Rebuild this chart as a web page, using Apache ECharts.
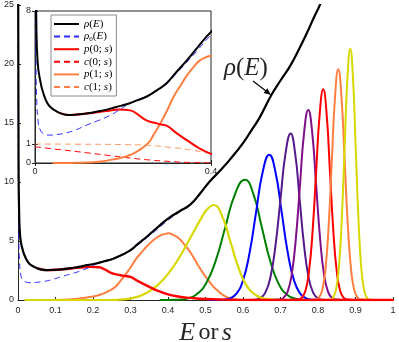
<!DOCTYPE html>
<html>
<head>
<meta charset="utf-8">
<script src="https://cdn.jsdelivr.net/npm/echarts@6.0.0/dist/echarts.min.js"></script>
<style>
html,body{margin:0;padding:0;background:#fff;}
#chart{width:399px;height:342px;}
</style>
</head>
<body>
<div id="chart"></div>
<script>
// ---- data (E or s, value) ----
const rhoPts = [[0.0005,26],[0.0015,12],[0.003,7.5],[0.006,5.3],[0.013,4.2],[0.02,3.6],[0.027,3.2],[0.035,2.95],[0.049,2.72],[0.06,2.6],[0.076,2.53],[0.095,2.55],[0.117,2.6],[0.14,2.7],[0.163,2.81],[0.185,2.95],[0.208,3.09],[0.23,3.28],[0.254,3.5],[0.275,3.8],[0.299,4.2],[0.32,4.75],[0.345,5.4],[0.37,6.1],[0.4,6.9],[0.43,7.5],[0.46,8.1],[0.485,9.0],[0.51,10.0],[0.54,11.0],[0.565,11.9],[0.6,13.3],[0.625,14.5],[0.645,15.5],[0.676,17.4],[0.7,18.6],[0.725,19.8],[0.75,21.3],[0.77,22.6],[0.79,24],[0.805,25],[0.82,26.2]];
const rho0Pts = [[0.0003,26],[0.0008,12],[0.002,6],[0.004,3.3],[0.0076,2.1],[0.012,1.75],[0.019,1.55],[0.034,1.47],[0.05,1.5],[0.064,1.55],[0.09,1.72],[0.117,1.99],[0.14,2.2],[0.163,2.42],[0.185,2.7],[0.208,3.04],[0.23,3.3],[0.254,3.52],[0.275,3.8],[0.299,4.15],[0.32,4.68],[0.345,5.3],[0.37,5.95],[0.4,6.75],[0.43,7.45],[0.46,8.05],[0.485,8.95],[0.51,9.95],[0.54,10.95],[0.565,11.85],[0.6,13.25],[0.625,14.45],[0.645,15.45],[0.676,17.35],[0.7,18.55],[0.725,19.75],[0.75,21.25],[0.77,22.55],[0.79,23.95],[0.805,24.95],[0.82,26.1]];
const p0Pts = [[0.055,2.65],[0.076,2.53],[0.117,2.6],[0.163,2.74],[0.193,2.81],[0.216,2.77],[0.231,2.6],[0.25,2.28],[0.269,2.13],[0.284,2.04],[0.3,1.95],[0.32,1.6],[0.345,1.2],[0.375,0.75],[0.4,0.48],[0.43,0.28],[0.459,0.18],[0.5,0.08],[0.55,0.03],[0.6,0.01],[0.65,0],[1.0,0]];
const p1Pts = [[0.04,0],[0.08,0.005],[0.117,0.02],[0.15,0.08],[0.178,0.19],[0.2,0.3],[0.216,0.42],[0.235,0.65],[0.258,1.07],[0.27,1.5],[0.284,2.05],[0.3,2.75],[0.314,3.45],[0.33,4.05],[0.345,4.6],[0.36,5.05],[0.375,5.4],[0.39,5.58],[0.402,5.65],[0.415,5.5],[0.43,5.2],[0.441,4.8],[0.455,4.25],[0.467,3.67],[0.48,2.95],[0.494,2.26],[0.508,1.65],[0.521,1.13],[0.535,0.72],[0.547,0.42],[0.565,0.14],[0.585,0.04],[0.6,0]];
const p2Pts = [[0.02,0],[0.25,0],[0.28,0.05],[0.31,0.2],[0.34,0.55],[0.37,1.2],[0.40,2.2],[0.43,3.6],[0.46,5.3],[0.49,7.0],[0.505,7.7],[0.522,8.05],[0.5445,7.1],[0.567,4.88],[0.5895,2.61],[0.612,1.09],[0.6345,0.4],[0.657,0.12],[0.68,0.03],[0.70,0]];
const p3Pts = [[0.38,0],[0.423,0.02],[0.449,0.11],[0.475,0.45],[0.501,1.38],[0.527,3.31],[0.553,6.19],[0.579,9.0],[0.605,10.2],[0.6275,9.0],[0.650,6.19],[0.6725,3.31],[0.695,1.38],[0.7175,0.45],[0.740,0.11],[0.7625,0.02],[0.80,0]];
const p4Pts = [[0.51,0],[0.5475,0.03],[0.565,0.14],[0.5825,0.54],[0.600,1.66],[0.6175,3.99],[0.635,7.46],[0.6525,10.85],[0.670,12.3],[0.6865,10.85],[0.703,7.46],[0.7195,3.99],[0.736,1.66],[0.7525,0.54],[0.769,0.14],[0.7855,0.03],[0.82,0]];
const p5Pts = [[0.60,0],[0.6325,0.03],[0.646,0.16],[0.6595,0.62],[0.673,1.91],[0.6865,4.58],[0.700,8.55],[0.7135,12.44],[0.727,14.1],[0.739,12.44],[0.751,8.55],[0.763,4.58],[0.775,1.91],[0.787,0.62],[0.799,0.16],[0.811,0.03],[0.84,0]];
const p6Pts = [[0.67,0],[0.697,0.04],[0.708,0.18],[0.719,0.71],[0.730,2.18],[0.741,5.23],[0.752,9.76],[0.763,14.21],[0.774,16.1],[0.7845,14.21],[0.795,9.76],[0.8055,5.23],[0.816,2.18],[0.8265,0.71],[0.837,0.18],[0.8475,0.04],[0.87,0]];
const p7Pts = [[0.72,0],[0.7475,0.04],[0.757,0.20],[0.7665,0.78],[0.776,2.42],[0.7855,5.80],[0.795,10.83],[0.8045,15.75],[0.814,17.85],[0.823,15.75],[0.832,10.83],[0.841,5.80],[0.850,2.42],[0.859,0.78],[0.868,0.20],[0.877,0.04],[0.90,0]];
const p8Pts = [[0.77,0],[0.7945,0.04],[0.803,0.22],[0.8115,0.86],[0.820,2.65],[0.8285,6.35],[0.837,11.86],[0.8455,17.25],[0.854,19.55],[0.8625,17.25],[0.871,11.86],[0.8795,6.35],[0.888,2.65],[0.8965,0.86],[0.905,0.22],[0.9135,0.04],[0.94,0]];
const p9Pts = [[0.80,0],[0.8335,0.05],[0.841,0.24],[0.8485,0.94],[0.856,2.88],[0.8635,6.92],[0.871,12.92],[0.8785,18.80],[0.886,21.3],[0.8933,18.80],[0.9005,12.92],[0.9078,6.92],[0.915,2.88],[0.9223,0.94],[0.9295,0.24],[0.9368,0.05],[0.96,0]];
const c0Pts = [[0,0.85],[0.05,0.72],[0.117,0.54],[0.16,0.42],[0.216,0.26],[0.26,0.16],[0.307,0.08],[0.35,0.03],[0.4,0.01]];
const c1Pts = [[0,1.0],[0.1,0.99],[0.2,0.97],[0.25,0.94],[0.3,0.84],[0.35,0.7],[0.4,0.5]];
// tick values
const insetYTicks = [0, 1, 8];
const legendNames = ['rho', 'rho0', 'p0', 'c0', 'p1', 'c1'];
const legendLabels = {
  rho: '{i|ρ}{n|(}{i|E}{n|)}',
  rho0: '{i|ρ}{sub|0}{n|(}{i|E}{n|)}',
  p0: '{i|p}{n|(0; }{i|s}{n|)}',
  c0: '{i|c}{n|(0; }{i|s}{n|)}',
  p1: '{i|p}{n|(1; }{i|s}{n|)}',
  c1: '{i|c}{n|(1; }{i|s}{n|)}'
};

const C = {
  black: '#000000', blue: '#2b2bff', red: '#ff0000', orange: '#ff7f40',
  yellow: '#d8d800', green: '#008000', pblue: '#0000ff', indigo: '#521a8c', purple: '#80108a'
};
const AX = '#262626';
const SERIF = 'Liberation Serif';

function line(name, data, color, width, opts) {
  return Object.assign({
    type: 'line', name: name, data: data, showSymbol: false, symbol: 'none',
    smooth: 0.5, clip: true, animation: false,
    lineStyle: { color: color, width: width, join: 'round', cap: 'round' },
    itemStyle: { color: color },
    emphasis: { disabled: true }
  }, opts || {});
}
function inset(name, data, color, width, type) {
  return line(name, data, color, width, {
    xAxisIndex: 1, yAxisIndex: 1, zlevel: 1,
    lineStyle: { color: color, width: width, type: type || 'solid', join: 'round' }
  });
}

const chart = echarts.init(document.getElementById('chart'), null, { renderer: 'canvas' });
const option = {
  animation: false,
  backgroundColor: '#ffffff',
  grid: [
    { left: 18, right: 6, top: 5, bottom: 42, containLabel: false, outerBoundsMode: 'none' },
    { left: 35, top: 11, width: 176, height: 152, show: true, backgroundColor: '#ffffff',
      borderColor: AX, borderWidth: 1, zlevel: 1, containLabel: false, outerBoundsMode: 'none' }
  ],
  xAxis: [
    { type: 'value', gridIndex: 0, min: 0, max: 1, interval: 0.1,
      name: '{i|E} {n|or} {i|s}', nameLocation: 'middle', nameGap: 13,
      nameTextStyle: { rich: {
        i: { fontFamily: SERIF, fontStyle: 'italic', fontSize: 26, color: AX },
        n: { fontFamily: SERIF, fontSize: 24, color: AX } } },
      axisLine: { show: true, lineStyle: { color: AX, width: 1 } },
      axisTick: { show: true, inside: true, length: 3, lineStyle: { color: AX } },
      axisLabel: { fontFamily: 'Liberation Sans', fontSize: 9, color: AX, margin: 6 },
      splitLine: { show: false } },
    { type: 'value', gridIndex: 1, min: 0, max: 0.4, interval: 0.4, zlevel: 1,
      axisLine: { show: true, lineStyle: { color: AX, width: 1 } },
      axisTick: { show: true, inside: true, length: 3, lineStyle: { color: AX } },
      axisLabel: { fontFamily: 'Liberation Sans', fontSize: 9, color: AX, margin: 4 },
      splitLine: { show: false } },
    { type: 'value', gridIndex: 1, min: 0, max: 0.4, interval: 0.4, position: 'top', zlevel: 1,
      axisLine: { show: true, lineStyle: { color: AX, width: 1 } },
      axisTick: { show: true, inside: true, length: 3, lineStyle: { color: AX } },
      axisLabel: { show: false }, splitLine: { show: false } }
  ],
  yAxis: [
    { type: 'value', gridIndex: 0, min: 0, max: 25, interval: 5,
      axisLine: { show: true, lineStyle: { color: AX, width: 1 } },
      axisTick: { show: true, inside: true, length: 3, lineStyle: { color: AX } },
      axisLabel: { fontFamily: 'Liberation Sans', fontSize: 9, color: AX, margin: 4 },
      splitLine: { show: false } },
    { type: 'value', gridIndex: 1, min: 0, max: 8, zlevel: 1,
      axisLine: { show: true, lineStyle: { color: AX, width: 1 } },
      axisTick: { show: true, inside: true, length: 3, lineStyle: { color: AX }, customValues: insetYTicks },
      axisLabel: { fontFamily: 'Liberation Sans', fontSize: 9, color: AX, margin: 4, customValues: insetYTicks },
      splitLine: { show: false } },
    { type: 'value', gridIndex: 1, min: 0, max: 8, position: 'right', zlevel: 1,
      axisLine: { show: true, lineStyle: { color: AX, width: 1 } },
      axisTick: { show: true, inside: true, length: 3, lineStyle: { color: AX }, customValues: insetYTicks },
      axisLabel: { show: false }, splitLine: { show: false } }
  ],
  legend: {
    data: legendNames, orient: 'vertical', left: 51, top: 15, zlevel: 1, z: 10,
    selectedMode: false, backgroundColor: '#ffffff', borderColor: '#8a8a8a', borderWidth: 1,
    padding: [3, 4, 3, 2], itemWidth: 25, itemHeight: 10, itemGap: 0.6,
    itemStyle: { opacity: 0, borderWidth: 0 },
    formatter: function (n) { return legendLabels[n]; },
    textStyle: { lineHeight: 12, rich: {
      i: { fontFamily: SERIF, fontStyle: 'italic', fontSize: 11, color: '#000', lineHeight: 12 },
      n: { fontFamily: SERIF, fontSize: 11, color: '#000', lineHeight: 12 },
      sub: { fontFamily: SERIF, fontSize: 7, color: '#000', lineHeight: 12, verticalAlign: 'bottom', padding: [4, 0, 0, 0] } } }
  },
  series: [
    line('m_p1', p1Pts, C.orange, 2),
    line('m_p3', p3Pts, C.green, 2),
    line('m_p4', p4Pts, C.pblue, 2),
    line('m_p5', p5Pts, C.indigo, 2),
    line('m_p6', p6Pts, C.purple, 2),
    line('m_p7', p7Pts, C.red, 2),
    line('m_p8', p8Pts, C.orange, 2),
    line('m_p9', p9Pts, C.yellow, 2),
    line('m_p2', p2Pts, C.yellow, 2.2),
    line('m_p0', p0Pts, C.red, 2.4),
    line('m_rho0', rho0Pts, C.blue, 1, { lineStyle: { color: C.blue, width: 1, type: [6, 4] } }),
    line('m_rho', rhoPts, C.black, 2.2),
    // inset
    inset('c1', c1Pts, C.orange, 0.8, [6, 4]),
    inset('c0', c0Pts, C.red, 1, [6, 4]),
    inset('p1', p1Pts, C.orange, 2),
    inset('p0', p0Pts, C.red, 2),
    inset('rho0', rho0Pts, C.blue, 1, [6, 4]),
    inset('rho', rhoPts, C.black, 2)
  ],
  graphic: [
    { type: 'text', left: 224, top: 56, z: 50,
      style: { text: '{i|ρ}{n|(}{i|E}{n|)}', fill: AX,
        rich: { i: { fontFamily: SERIF, fontStyle: 'italic', fontSize: 25, fill: AX },
                n: { fontFamily: SERIF, fontSize: 25, fill: AX } } } },
    { type: 'line', z: 50, shape: { x1: 253, y1: 81, x2: 266, y2: 91 },
      style: { stroke: '#000', lineWidth: 1.2 } },
    { type: 'polygon', z: 50, shape: { points: [[271, 95], [263.7, 93.1], [267.3, 88.3]] },
      style: { fill: '#000' } }
  ]
};
chart.setOption(option);
</script>
</body>
</html>
